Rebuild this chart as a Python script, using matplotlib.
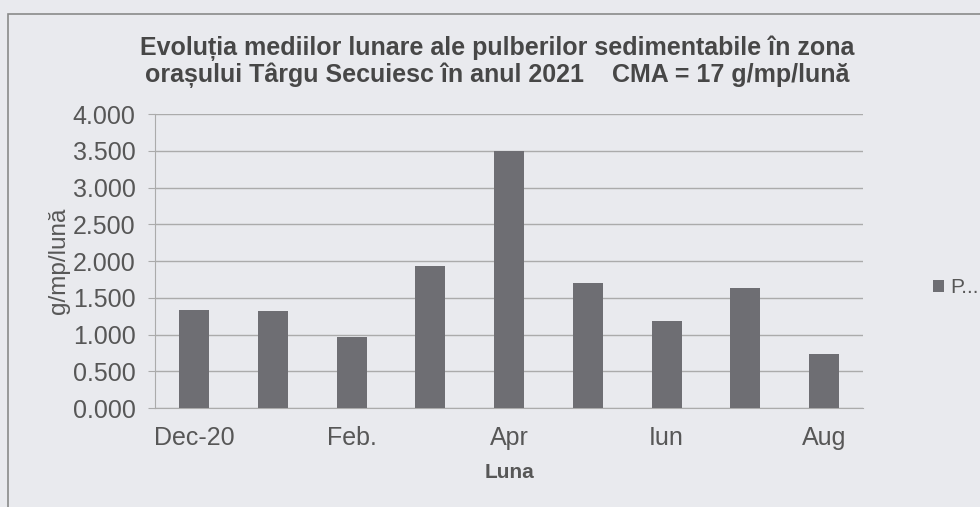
import matplotlib.pyplot as plt
from matplotlib.patches import Rectangle

plt.rcParams['font.family'] = ['Liberation Sans', 'DejaVu Sans']

months = ['Dec-20', 'Ian.', 'Feb.', 'Mar', 'Apr', 'Mai', 'Iun', 'Iul', 'Aug']
values = [1.33, 1.32, 0.97, 1.94, 3.50, 1.70, 1.19, 1.63, 0.73]
shown_labels = ['Dec-20', 'Feb.', 'Apr', 'Iun', 'Aug']
yticks = [0, 0.5, 1, 1.5, 2, 2.5, 3, 3.5, 4]

bg = '#e9eaee'
txt = '#575757'
fig = plt.figure(figsize=(9.8, 5.07), dpi=100, facecolor=bg)
ax = fig.add_axes([0.158, 0.195, 0.723, 0.580], facecolor=bg)

# chart border
fig.patches.append(Rectangle((0.008, -0.01), 1.2, 0.983, transform=fig.transFigure,
                             fill=False, edgecolor='#8a8a8a', linewidth=1.2))

x = list(range(len(months)))
ax.bar(x, values, width=0.38, color='#6e6e73', label='P...', zorder=3)

ax.set_xlim(-0.5, len(months) - 0.5)
ax.set_ylim(0, 4)
ax.set_yticks(yticks)
ax.set_yticklabels(['%.3f' % v for v in yticks])
ax.set_xticks(x[::2])
ax.set_xticklabels(shown_labels)
ax.tick_params(axis='both', labelsize=18, labelcolor=txt)
ax.tick_params(axis='x', length=0, pad=13)
ax.tick_params(axis='y', length=5, color='#ababab', pad=9)
ax.grid(axis='y', color='#ababab', linewidth=1, zorder=0)
for s in ['top', 'right']:
    ax.spines[s].set_visible(False)
ax.spines['left'].set_color('#ababab')
ax.spines['bottom'].set_color('#ababab')

ax.set_ylabel('g/mp/lună', fontsize=17.5, color=txt, labelpad=2)
ax.set_xlabel('Luna', fontsize=15, fontweight='bold', color=txt, labelpad=9)

fig.text(0.507, 0.878,
         'Evoluția mediilor lunare ale pulberilor sedimentabile în zona\n'
         'orașului Târgu Secuiesc în anul 2021    CMA = 17 g/mp/lună',
         ha='center', va='center', fontsize=18, fontweight='bold',
         color='#474747', linespacing=1.05)

ax.legend(loc='center left', bbox_to_anchor=(1.072, 0.41), frameon=False,
          fontsize=15, labelcolor=txt, handlelength=0.5, handleheight=0.5,
          handletextpad=0.3)

fig.savefig('out.png', dpi=100, facecolor=bg)
